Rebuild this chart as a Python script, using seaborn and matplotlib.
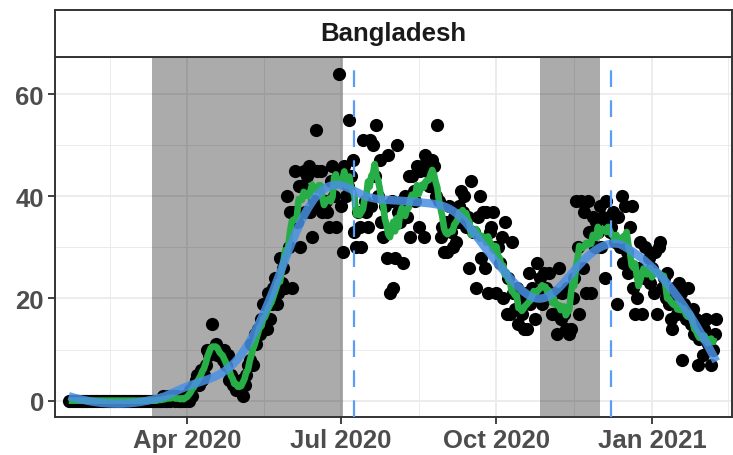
import numpy as np
import pandas as pd
import matplotlib
matplotlib.use("Agg")
import matplotlib.pyplot as plt
import matplotlib.dates as mdates
import seaborn as sns

# daily deaths, 2020-01-22 .. 2021-02-08
start_date = "2020-01-22"
deaths_pre = [0] * 56   # Jan 22 .. Mar 17, all zero
deaths_mar = [1, 0, 0, 1, 0, 1, 1, 0, 1, 0, 0, 0, 1, 0]
deaths_apr = [1, 0, 2, 1, 3, 4, 5, 3, 6, 4, 5, 7, 10, 9, 10, 15, 10, 11, 9, 10, 9,
              8, 10, 7, 9, 4, 5, 3, 4, 2]
deaths_may = [3, 2, 4, 1, 3, 5, 7, 8, 11, 7, 13, 11, 14, 13, 16, 19, 15, 14, 21, 16, 19,
              22, 24, 19, 21, 28, 23, 26, 22, 40, 30]
deaths_jun = [37, 22, 37, 45, 35, 42, 30, 42, 45, 37, 44, 46, 37, 32, 39, 53, 45, 38, 45, 37, 38,
              39, 37, 34, 43, 46, 40, 34, 45, 64]
deaths_jul = [38, 29, 46, 40, 42, 55, 44, 47, 33, 30, 37, 34, 30, 51, 39, 37, 34, 51, 38, 50, 44,
              54, 40, 47, 35, 32, 38, 28, 48, 21, 39]
deaths_aug = [22, 28, 50, 37, 35, 39, 27, 40, 36, 44, 32, 44, 41, 39, 46, 34, 45, 46, 32, 48, 45,
              42, 42, 47, 46, 40, 54, 39, 32, 34, 29]
deaths_sep = [35, 29, 38, 33, 30, 36, 31, 35, 38, 41, 37, 40, 34, 36, 26, 43, 33, 33, 22, 36, 40,
              28, 37, 26, 37, 21, 33, 34, 37, 30]
deaths_oct = [21, 30, 27, 32, 20, 35, 17, 24, 17, 31, 21, 18, 22, 15, 20, 17, 14, 21, 14, 25, 19,
              22, 20, 16, 27, 21, 24, 19, 25, 22, 20]
deaths_nov = [25, 21, 17, 21, 17, 13, 26, 16, 21, 17, 14, 22, 13, 14, 20, 24, 39, 30, 17, 39, 26,
              37, 21, 39, 33, 21, 36, 30, 35, 33]
deaths_dec = [38, 30, 36, 24, 39, 35, 33, 34, 37, 31, 19, 36, 30, 40, 27, 38, 29, 25, 34, 38, 22,
              17, 20, 26, 31, 17, 24, 30, 25, 28, 23]
deaths_jan21 = [26, 21, 29, 17, 30, 31, 22, 24, 20, 25, 19, 16, 14, 22, 20, 17, 23, 21, 8, 19, 16,
                22, 17, 15, 18, 13, 16, 7, 12, 15, 9]
deaths_feb21 = [14, 16, 11, 12, 7, 10, 13, 16]

shade_start = ["2020-03-11", "2020-10-27"]
shade_end = ["2020-07-02", "2020-12-01"]
vline_dates = ["2020-07-09", "2020-12-08"]
country = "Bangladesh"

deaths = (deaths_pre + deaths_mar + deaths_apr + deaths_may + deaths_jun + deaths_jul +
          deaths_aug + deaths_sep + deaths_oct + deaths_nov + deaths_dec + deaths_jan21 + deaths_feb21)
df = pd.DataFrame({"date": pd.date_range(start_date, periods=len(deaths), freq="D"),
                   "deaths": deaths})
df["avg"] = df["deaths"].rolling(7, center=True, min_periods=1).mean()


def loess(x, y, frac=0.2, deg=2):
    n = len(x)
    k = int(np.ceil(frac * n))
    out = np.zeros(n)
    for i, xi in enumerate(x):
        d = np.abs(x - xi)
        h = np.sort(d)[k - 1]
        w = np.clip(1 - (d / h) ** 3, 0, None) ** 3
        c = np.polyfit(x - xi, y, deg, w=np.sqrt(w))
        out[i] = c[-1]
    return out


t = np.arange(len(df), dtype=float)
df["smooth"] = loess(t, df["deaths"].values.astype(float), 0.3)

sns.set_style("white")
plt.rcParams["font.family"] = ["Liberation Sans", "DejaVu Sans"]

fig = plt.figure(figsize=(7.33, 4.56), dpi=100)
ax = fig.add_axes([55 / 733, 38 / 456, 677 / 733, 360 / 456])
strip = fig.add_axes([55 / 733, 398 / 456, 677 / 733, 47 / 456])

apr1 = mdates.date2num(pd.Timestamp("2020-04-01"))
ax.set_xlim(apr1 - 78.1, apr1 + 322.3)
ax.set_ylim(-3.2, 67.25)

majors = pd.to_datetime(["2020-01-01", "2020-04-01", "2020-07-01", "2020-10-01", "2021-01-01", "2021-04-01"])
mnum = mdates.date2num(majors)
ax.set_xticks(mnum[1:5])
ax.set_xticklabels(["Apr 2020", "Jul 2020", "Oct 2020", "Jan 2021"])
ax.set_xticks((mnum[:-1] + mnum[1:]) / 2, minor=True)
ax.set_yticks([0, 20, 40, 60])
ax.set_yticks([10, 30, 50], minor=True)
ax.grid(True, which="major", color="#EBEBEB", lw=1.3)
ax.grid(True, which="minor", color="#EBEBEB", lw=0.7)
ax.set_axisbelow(True)

for s, e in zip(shade_start, shade_end):
    ax.axvspan(pd.Timestamp(s), pd.Timestamp(e), color="black", alpha=0.33, lw=0, zorder=1)

sns.scatterplot(data=df, x="date", y="deaths", ax=ax, color="black", s=90, linewidth=0, zorder=3)
sns.lineplot(data=df, x="date", y="avg", ax=ax, color="#27AE47", lw=4.8, zorder=4,
             solid_capstyle="butt")
sns.lineplot(data=df, x="date", y="smooth", ax=ax, color="#4A90E2", lw=6, alpha=0.85, zorder=5,
             solid_capstyle="butt")
for v in vline_dates:
    ax.axvline(pd.Timestamp(v), color="#5B9CF6", lw=1.6, dashes=(7.5, 6), zorder=6)

ax.set_xlabel("")
ax.set_ylabel("")
ax.tick_params(axis="both", which="major", length=5, width=1.3, color="#333333",
               labelsize=18.5, labelcolor="#4D4D4D", direction="out", pad=3)
ax.tick_params(axis="both", which="minor", length=0)
ax.tick_params(axis="x", bottom=True)
ax.tick_params(axis="y", left=True)
for lab in ax.get_xticklabels() + ax.get_yticklabels():
    lab.set_fontweight("bold")
for sp in ax.spines.values():
    sp.set_color("#333333")
    sp.set_linewidth(1.4)

strip.set_facecolor("white")
strip.set_xticks([])
strip.set_yticks([])
for sp in strip.spines.values():
    sp.set_color("#333333")
    sp.set_linewidth(1.4)
strip.text(0.5, 0.5, country, ha="center", va="center", fontsize=18.5, fontweight="bold",
           color="#1A1A1A", transform=strip.transAxes)

fig.savefig("out.png", dpi=100)
